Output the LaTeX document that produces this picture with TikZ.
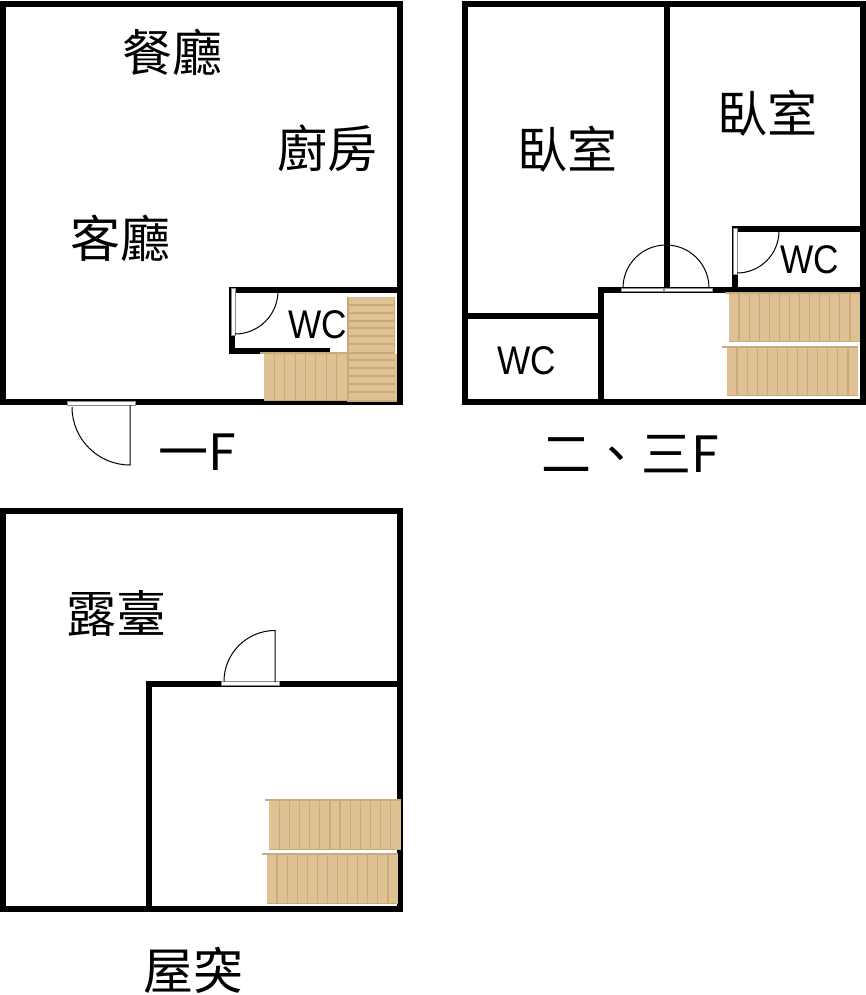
\documentclass[tikz,border=0pt]{standalone}
\usepackage{fontspec}
\newfontfamily\cjk{Noto Sans CJK TC}
\setmainfont{Liberation Sans}
\newfontfamily\wcfont[FakeStretch=0.88]{Liberation Sans}
\definecolor{wood}{HTML}{E0C194}
\definecolor{woodline}{HTML}{C9AA7A}
\newcommand{\hstair}[6]{% x0 y0 x1 y1 lipx steps
  \fill[wood] (#1,#2) rectangle (#3,#4);
  \fill[woodline] (#5,#2-1) rectangle (#3,#2+1);
  \fill[woodline] (#1,#4-1.5) rectangle (#3,#4);
  \pgfmathsetmacro{\stp}{(#3-#1)/#6}
  \pgfmathtruncatemacro{\lastline}{#6-1}
  \foreach \i in {1,...,\lastline}{\draw[treadline] ({#1+\i*\stp},#2) -- ({#1+\i*\stp},#4);}
}
\tikzset{
  x=1pt,y=-1pt,
  wall/.style={line width=5.5pt,draw=black,line cap=rect,line join=miter},
  doorstrip/.style={fill=white,draw=black!45,line width=0.5pt},
  leaf/.style={draw=black,line width=1pt},
  treadline/.style={draw=woodline,line width=1.2pt},
  big/.style={font=\cjk\fontsize{50}{50}\selectfont,inner sep=0pt},
  wc/.style={font=\wcfont\fontsize{40}{40}\selectfont,inner sep=0pt},
}
\begin{document}
\begin{tikzpicture}
\useasboundingbox (0,0) rectangle (866,995);
% 1F walls
\draw[wall] (3,4) rectangle (400,402);
\draw[wall] (232,290) -- (400,290);
\draw[wall] (232,290) -- (232,351) -- (327,351);
% 1F stairs
\hstair{264}{353}{347}{401}{260}{8}
\fill[wood] (347,297) rectangle (395,401);
\fill[woodline] (347,297) rectangle (348.5,401);
\fill[woodline] (393.5,297) rectangle (395,353);
\foreach \yy in {305,313,321,328,336,344,353,360,368,376,384,392}{\draw[treadline] (348,\yy) -- (395,\yy);}
\fill[wood] (395,354) rectangle (397,401);
\fill[woodline] (347,400) rectangle (397,401.5);
% 1F doors
\draw[doorstrip] (231,288) rectangle (235,335);
\draw[leaf] (235,334) arc[start angle=90,end angle=0,radius=43];
\draw[doorstrip] (67,401.5) rectangle (135,405);
\draw[leaf] (130,405) -- (130,465) arc[start angle=90,end angle=180,radius=58];
% 2F walls
\draw[wall] (465,4) rectangle (863,402);
\draw[wall] (667,4) -- (667,290);
\draw[wall] (601,402) -- (601,290) -- (863,290);
\draw[wall] (465,316) -- (601,316);
\draw[wall] (735,290) -- (735,229) -- (863,229);
% 2F stairs
\hstair{729}{293}{860}{342}{725}{13}
\hstair{727}{347}{858}{396}{722}{13}
% 2F doors
\draw[doorstrip] (733,228) rectangle (737,274);
\draw[leaf] (737,273) arc[start angle=90,end angle=0,radius=42];
\draw[doorstrip] (621,288) rectangle (663.5,291.5);
\draw[doorstrip] (664,288) rectangle (712,291.5);
\draw[leaf] (623,288) arc[start angle=180,end angle=360,radius=43];
% Roof walls
\draw[wall] (3,511) rectangle (400,909);
\draw[wall] (149,909) -- (149,684) -- (400,684);
% Roof stairs
\hstair{269}{800}{401}{850}{265}{13}
\hstair{267}{854}{398}{904}{262}{13}
% Roof door
\draw[doorstrip] (221,681.5) rectangle (279,685);
\draw[leaf] (275,682) -- (275,630.5) arc[start angle=270,end angle=180,radius=51];
% Labels
\node[big] (canting) at (172,52) {餐廳};
\node[big] (chufang) at (327,148) {廚房};
\node[big] (keting) at (120,238) {客廳};
\node[wc] (wc1) at (318,325) {WC};
\node[big] (f1) at (197,452) {一F};
\node[big] (woshi1) at (567,149) {臥室};
\node[big] (woshi2) at (767,113) {臥室};
\node[wc] (wc2) at (810,260) {WC};
\node[wc] (wc3) at (527,361) {WC};
\node[big] (f23) at (630,454) {二、三F};
\node[big] (lutai) at (116,613) {露臺};
\node[big] (wutu) at (193,970) {屋突};
\end{tikzpicture}
\end{document}
